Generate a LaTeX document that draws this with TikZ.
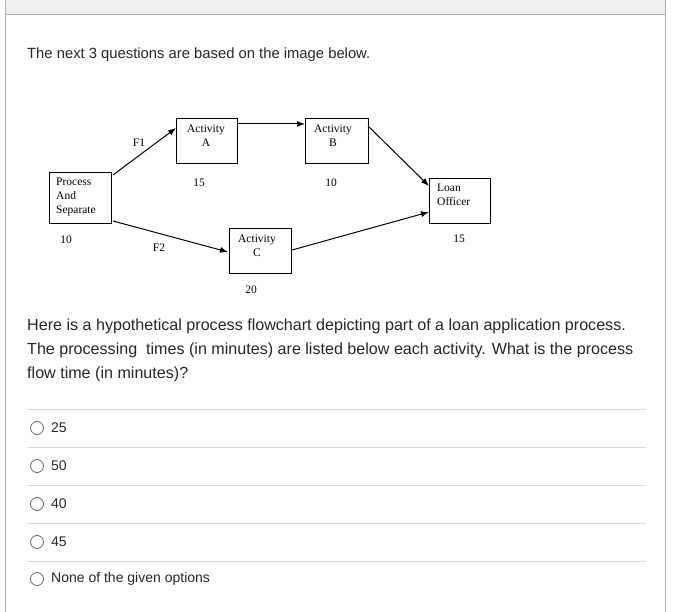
\documentclass[tikz,border=0pt]{standalone}
\usepackage{fontspec}
\setmainfont{Liberation Sans}
\newfontfamily\tms{Liberation Serif}
\usetikzlibrary{arrows.meta}
\begin{document}
\begin{tikzpicture}[x=1pt,y=-1pt,
  bx/.style={draw,line width=0.9pt,inner sep=0pt,anchor=north west},
  dl/.style={font=\tms\fontsize{11.5}{14}\selectfont,inner sep=0pt},
  ar/.style={-{Latex[length=8pt,width=6pt]},line width=1pt},
  qt/.style={font=\fontsize{16.1}{18}\selectfont,anchor=west,inner sep=0pt,text=black!85},
  sep/.style={draw=black!15,line width=0.6pt},
  rad/.style={circle,draw=black!60,line width=0.8pt,minimum size=13pt,inner sep=0pt}]
\useasboundingbox (0,0) rectangle (673,612);
\fill[black!6] (5,0) rectangle (665,14);
\draw[black!30,line width=0.8pt] (5,0) -- (5,612) (665,0) -- (665,612) (5,14) -- (665,14);
\node[qt,font=\fontsize{14.8}{18}\selectfont] (t1) at (27,55) {The next 3 questions are based on the image below.};
% diagram
\node[bx,minimum width=62pt,minimum height=51pt] (P) at (49,172) {};
\node[dl,align=left,anchor=north west] (Pt) at (56,178) {Process\\And\\Separate};
\node[bx,minimum width=61pt,minimum height=45pt] (A) at (176,118) {};
\node[dl,align=center,anchor=north] (At) at (206,125) {Activity\\A};
\node[bx,minimum width=63pt,minimum height=45pt] (B) at (305,118) {};
\node[dl,align=center,anchor=north] (Bt) at (333,125) {Activity\\B};
\node[bx,minimum width=62pt,minimum height=45pt] (C) at (229,228) {};
\node[dl,align=center,anchor=north] (Ct) at (257,235) {Activity\\C};
\node[bx,minimum width=61pt,minimum height=45pt] (L) at (429,178) {};
\node[dl,align=left,anchor=north west] (Lt) at (437,184) {Loan\\Officer};
\coordinate (p1) at (113,175); \coordinate (a1) at (176,128);
\coordinate (a2) at (237,124); \coordinate (b1) at (305,124);
\coordinate (b2) at (368,126); \coordinate (l1) at (429,186);
\coordinate (p2) at (113,221); \coordinate (c1) at (228,252);
\coordinate (c2) at (292,250); \coordinate (l2) at (429,212);
\draw[ar] (p1) -- (a1);
\draw[ar] (a2) -- (b1);
\draw[ar] (b2) -- (l1);
\draw[ar] (p2) -- (c1);
\draw[ar] (c2) -- (l2);
\node[dl] (f1) at (139,143) {F1};
\node[dl] (f2) at (159,248) {F2};
\node[dl] (n1) at (199,183) {15};
\node[dl] (n2) at (331,183) {10};
\node[dl] (n3) at (66,240) {10};
\node[dl] (n4) at (251,290) {20};
\node[dl] (n5) at (459,239) {15};
% question
\node[qt] (q1) at (27,326) {Here is a hypothetical process flowchart depicting part of a loan application process.};
\node[qt] (q2) at (27,350) {The processing\ \ times (in minutes) are listed below each activity. What is the process};
\node[qt] (q3) at (27,374) {flow time (in minutes)?};
\foreach \y in {409,447,485,523,561} \draw[sep] (27,\y) -- (646,\y);
\foreach \y/\t [count=\i] in {428/25,466/50,504/40,542/45,579/None of the given options}{
  \node[rad] (r\i) at (37,\y) {};
  \node[qt,font=\fontsize{14}{16}\selectfont] (o\i) at (51,\y) {\t};
}
\end{tikzpicture}
\end{document}
